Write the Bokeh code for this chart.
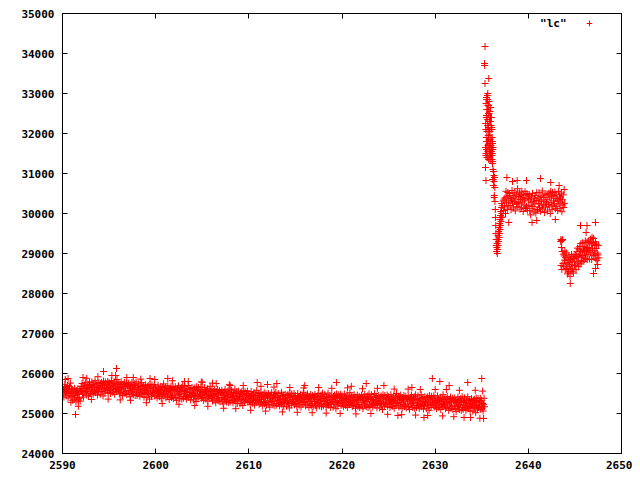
from bokeh.plotting import figure
from bokeh.models import LinearAxis, Range1d, Label, Legend, LegendItem, FixedTicker
from bokeh.embed import file_html
from bokeh.resources import INLINE

# ---------------- data ----------------
x_ticks = [2590, 2600, 2610, 2620, 2630, 2640, 2650]
y_ticks = [24000, 25000, 26000, 27000, 28000, 29000, 30000, 31000, 32000, 33000, 34000, 35000]
series_label = '"lc"'

# quiet part 2590.00 - 2635.30 (one row = one day)
t_quiet = [
    2590.00, 2590.05, 2590.10, 2590.15, 2590.20, 2590.25, 2590.30, 2590.35, 2590.40, 2590.45, 2590.50, 2590.55, 2590.60, 2590.65, 2590.70, 2590.75, 2590.80, 2590.85, 2590.90, 2590.95,
    2591.00, 2591.05, 2591.10, 2591.15, 2591.20, 2591.25, 2591.30, 2591.35, 2591.40, 2591.45, 2591.50, 2591.55, 2591.60, 2591.65, 2591.70, 2591.75, 2591.80, 2591.85, 2591.90, 2591.95,
    2592.00, 2592.05, 2592.10, 2592.15, 2592.20, 2592.25, 2592.30, 2592.35, 2592.40, 2592.45, 2592.50, 2592.55, 2592.60, 2592.65, 2592.70, 2592.75, 2592.80, 2592.85, 2592.90, 2592.95,
    2593.00, 2593.05, 2593.10, 2593.15, 2593.20, 2593.25, 2593.30, 2593.35, 2593.40, 2593.45, 2593.50, 2593.55, 2593.60, 2593.65, 2593.70, 2593.75, 2593.80, 2593.85, 2593.90, 2593.95,
    2594.00, 2594.05, 2594.10, 2594.15, 2594.20, 2594.25, 2594.30, 2594.35, 2594.40, 2594.45, 2594.50, 2594.55, 2594.60, 2594.65, 2594.70, 2594.75, 2594.80, 2594.85, 2594.90, 2594.95,
    2595.00, 2595.05, 2595.10, 2595.15, 2595.20, 2595.25, 2595.30, 2595.35, 2595.40, 2595.45, 2595.50, 2595.55, 2595.60, 2595.65, 2595.70, 2595.75, 2595.80, 2595.85, 2595.90, 2595.95,
    2596.00, 2596.05, 2596.10, 2596.15, 2596.20, 2596.25, 2596.30, 2596.35, 2596.40, 2596.45, 2596.50, 2596.55, 2596.60, 2596.65, 2596.70, 2596.75, 2596.80, 2596.85, 2596.90, 2596.95,
    2597.00, 2597.05, 2597.10, 2597.15, 2597.20, 2597.25, 2597.30, 2597.35, 2597.40, 2597.45, 2597.50, 2597.55, 2597.60, 2597.65, 2597.70, 2597.75, 2597.80, 2597.85, 2597.90, 2597.95,
    2598.00, 2598.05, 2598.10, 2598.15, 2598.20, 2598.25, 2598.30, 2598.35, 2598.40, 2598.45, 2598.50, 2598.55, 2598.60, 2598.65, 2598.70, 2598.75, 2598.80, 2598.85, 2598.90, 2598.95,
    2599.00, 2599.05, 2599.10, 2599.15, 2599.20, 2599.25, 2599.30, 2599.35, 2599.40, 2599.45, 2599.50, 2599.55, 2599.60, 2599.65, 2599.70, 2599.75, 2599.80, 2599.85, 2599.90, 2599.95,
    2600.00, 2600.05, 2600.10, 2600.15, 2600.20, 2600.25, 2600.30, 2600.35, 2600.40, 2600.45, 2600.50, 2600.55, 2600.60, 2600.65, 2600.70, 2600.75, 2600.80, 2600.85, 2600.90, 2600.95,
    2601.00, 2601.05, 2601.10, 2601.15, 2601.20, 2601.25, 2601.30, 2601.35, 2601.40, 2601.45, 2601.50, 2601.55, 2601.60, 2601.65, 2601.70, 2601.75, 2601.80, 2601.85, 2601.90, 2601.95,
    2602.00, 2602.05, 2602.10, 2602.15, 2602.20, 2602.25, 2602.30, 2602.35, 2602.40, 2602.45, 2602.50, 2602.55, 2602.60, 2602.65, 2602.70, 2602.75, 2602.80, 2602.85, 2602.90, 2602.95,
    2603.00, 2603.05, 2603.10, 2603.15, 2603.20, 2603.25, 2603.30, 2603.35, 2603.40, 2603.45, 2603.50, 2603.55, 2603.60, 2603.65, 2603.70, 2603.75, 2603.80, 2603.85, 2603.90, 2603.95,
    2604.00, 2604.05, 2604.10, 2604.15, 2604.20, 2604.25, 2604.30, 2604.35, 2604.40, 2604.45, 2604.50, 2604.55, 2604.60, 2604.65, 2604.70, 2604.75, 2604.80, 2604.85, 2604.90, 2604.95,
    2605.00, 2605.05, 2605.10, 2605.15, 2605.20, 2605.25, 2605.30, 2605.35, 2605.40, 2605.45, 2605.50, 2605.55, 2605.60, 2605.65, 2605.70, 2605.75, 2605.80, 2605.85, 2605.90, 2605.95,
    2606.00, 2606.05, 2606.10, 2606.15, 2606.20, 2606.25, 2606.30, 2606.35, 2606.40, 2606.45, 2606.50, 2606.55, 2606.60, 2606.65, 2606.70, 2606.75, 2606.80, 2606.85, 2606.90, 2606.95,
    2607.00, 2607.05, 2607.10, 2607.15, 2607.20, 2607.25, 2607.30, 2607.35, 2607.40, 2607.45, 2607.50, 2607.55, 2607.60, 2607.65, 2607.70, 2607.75, 2607.80, 2607.85, 2607.90, 2607.95,
    2608.00, 2608.05, 2608.10, 2608.15, 2608.20, 2608.25, 2608.30, 2608.35, 2608.40, 2608.45, 2608.50, 2608.55, 2608.60, 2608.65, 2608.70, 2608.75, 2608.80, 2608.85, 2608.90, 2608.95,
    2609.00, 2609.05, 2609.10, 2609.15, 2609.20, 2609.25, 2609.30, 2609.35, 2609.40, 2609.45, 2609.50, 2609.55, 2609.60, 2609.65, 2609.70, 2609.75, 2609.80, 2609.85, 2609.90, 2609.95,
    2610.00, 2610.05, 2610.10, 2610.15, 2610.20, 2610.25, 2610.30, 2610.35, 2610.40, 2610.45, 2610.50, 2610.55, 2610.60, 2610.65, 2610.70, 2610.75, 2610.80, 2610.85, 2610.90, 2610.95,
    2611.00, 2611.05, 2611.10, 2611.15, 2611.20, 2611.25, 2611.30, 2611.35, 2611.40, 2611.45, 2611.50, 2611.55, 2611.60, 2611.65, 2611.70, 2611.75, 2611.80, 2611.85, 2611.90, 2611.95,
    2612.00, 2612.05, 2612.10, 2612.15, 2612.20, 2612.25, 2612.30, 2612.35, 2612.40, 2612.45, 2612.50, 2612.55, 2612.60, 2612.65, 2612.70, 2612.75, 2612.80, 2612.85, 2612.90, 2612.95,
    2613.00, 2613.05, 2613.10, 2613.15, 2613.20, 2613.25, 2613.30, 2613.35, 2613.40, 2613.45, 2613.50, 2613.55, 2613.60, 2613.65, 2613.70, 2613.75, 2613.80, 2613.85, 2613.90, 2613.95,
    2614.00, 2614.05, 2614.10, 2614.15, 2614.20, 2614.25, 2614.30, 2614.35, 2614.40, 2614.45, 2614.50, 2614.55, 2614.60, 2614.65, 2614.70, 2614.75, 2614.80, 2614.85, 2614.90, 2614.95,
    2615.00, 2615.05, 2615.10, 2615.15, 2615.20, 2615.25, 2615.30, 2615.35, 2615.40, 2615.45, 2615.50, 2615.55, 2615.60, 2615.65, 2615.70, 2615.75, 2615.80, 2615.85, 2615.90, 2615.95,
    2616.00, 2616.05, 2616.10, 2616.15, 2616.20, 2616.25, 2616.30, 2616.35, 2616.40, 2616.45, 2616.50, 2616.55, 2616.60, 2616.65, 2616.70, 2616.75, 2616.80, 2616.85, 2616.90, 2616.95,
    2617.00, 2617.05, 2617.10, 2617.15, 2617.20, 2617.25, 2617.30, 2617.35, 2617.40, 2617.45, 2617.50, 2617.55, 2617.60, 2617.65, 2617.70, 2617.75, 2617.80, 2617.85, 2617.90, 2617.95,
    2618.00, 2618.05, 2618.10, 2618.15, 2618.20, 2618.25, 2618.30, 2618.35, 2618.40, 2618.45, 2618.50, 2618.55, 2618.60, 2618.65, 2618.70, 2618.75, 2618.80, 2618.85, 2618.90, 2618.95,
    2619.00, 2619.05, 2619.10, 2619.15, 2619.20, 2619.25, 2619.30, 2619.35, 2619.40, 2619.45, 2619.50, 2619.55, 2619.60, 2619.65, 2619.70, 2619.75, 2619.80, 2619.85, 2619.90, 2619.95,
    2620.00, 2620.05, 2620.10, 2620.15, 2620.20, 2620.25, 2620.30, 2620.35, 2620.40, 2620.45, 2620.50, 2620.55, 2620.60, 2620.65, 2620.70, 2620.75, 2620.80, 2620.85, 2620.90, 2620.95,
    2621.00, 2621.05, 2621.10, 2621.15, 2621.20, 2621.25, 2621.30, 2621.35, 2621.40, 2621.45, 2621.50, 2621.55, 2621.60, 2621.65, 2621.70, 2621.75, 2621.80, 2621.85, 2621.90, 2621.95,
    2622.00, 2622.05, 2622.10, 2622.15, 2622.20, 2622.25, 2622.30, 2622.35, 2622.40, 2622.45, 2622.50, 2622.55, 2622.60, 2622.65, 2622.70, 2622.75, 2622.80, 2622.85, 2622.90, 2622.95,
    2623.00, 2623.05, 2623.10, 2623.15, 2623.20, 2623.25, 2623.30, 2623.35, 2623.40, 2623.45, 2623.50, 2623.55, 2623.60, 2623.65, 2623.70, 2623.75, 2623.80, 2623.85, 2623.90, 2623.95,
    2624.00, 2624.05, 2624.10, 2624.15, 2624.20, 2624.25, 2624.30, 2624.35, 2624.40, 2624.45, 2624.50, 2624.55, 2624.60, 2624.65, 2624.70, 2624.75, 2624.80, 2624.85, 2624.90, 2624.95,
    2625.00, 2625.05, 2625.10, 2625.15, 2625.20, 2625.25, 2625.30, 2625.35, 2625.40, 2625.45, 2625.50, 2625.55, 2625.60, 2625.65, 2625.70, 2625.75, 2625.80, 2625.85, 2625.90, 2625.95,
    2626.00, 2626.05, 2626.10, 2626.15, 2626.20, 2626.25, 2626.30, 2626.35, 2626.40, 2626.45, 2626.50, 2626.55, 2626.60, 2626.65, 2626.70, 2626.75, 2626.80, 2626.85, 2626.90, 2626.95,
    2627.00, 2627.05, 2627.10, 2627.15, 2627.20, 2627.25, 2627.30, 2627.35, 2627.40, 2627.45, 2627.50, 2627.55, 2627.60, 2627.65, 2627.70, 2627.75, 2627.80, 2627.85, 2627.90, 2627.95,
    2628.00, 2628.05, 2628.10, 2628.15, 2628.20, 2628.25, 2628.30, 2628.35, 2628.40, 2628.45, 2628.50, 2628.55, 2628.60, 2628.65, 2628.70, 2628.75, 2628.80, 2628.85, 2628.90, 2628.95,
    2629.00, 2629.05, 2629.10, 2629.15, 2629.20, 2629.25, 2629.30, 2629.35, 2629.40, 2629.45, 2629.50, 2629.55, 2629.60, 2629.65, 2629.70, 2629.75, 2629.80, 2629.85, 2629.90, 2629.95,
    2630.00, 2630.05, 2630.10, 2630.15, 2630.20, 2630.25, 2630.30, 2630.35, 2630.40, 2630.45, 2630.50, 2630.55, 2630.60, 2630.65, 2630.70, 2630.75, 2630.80, 2630.85, 2630.90, 2630.95,
    2631.00, 2631.05, 2631.10, 2631.15, 2631.20, 2631.25, 2631.30, 2631.35, 2631.40, 2631.45, 2631.50, 2631.55, 2631.60, 2631.65, 2631.70, 2631.75, 2631.80, 2631.85, 2631.90, 2631.95,
    2632.00, 2632.05, 2632.10, 2632.15, 2632.20, 2632.25, 2632.30, 2632.35, 2632.40, 2632.45, 2632.50, 2632.55, 2632.60, 2632.65, 2632.70, 2632.75, 2632.80, 2632.85, 2632.90, 2632.95,
    2633.00, 2633.05, 2633.10, 2633.15, 2633.20, 2633.25, 2633.30, 2633.35, 2633.40, 2633.45, 2633.50, 2633.55, 2633.60, 2633.65, 2633.70, 2633.75, 2633.80, 2633.85, 2633.90, 2633.95,
    2634.00, 2634.05, 2634.10, 2634.15, 2634.20, 2634.25, 2634.30, 2634.35, 2634.40, 2634.45, 2634.50, 2634.55, 2634.60, 2634.65, 2634.70, 2634.75, 2634.80, 2634.85, 2634.90, 2634.95,
    2635.00, 2635.05, 2635.10, 2635.15, 2635.20, 2635.25, 2635.30,
]
f_quiet = [
    25680, 25480, 25600, 25410, 25570, 25730, 25520, 25650, 25440, 25620, 25550, 25700, 25390, 25590, 25500, 25670, 25460, 25760, 25530, 25630,
    25420, 25600, 25330, 25490, 25560, 25360, 25630, 25450, 25520, 25290, 25570, 25400, 25480, 25620, 25340, 25510, 25380, 25590, 25310, 25550,
    25680, 25570, 25750, 25480, 25660, 25410, 25620, 25710, 25520, 25770, 25550, 25630, 25460, 25690, 25590, 25730, 25440, 25650, 25780, 25500,
    25500, 25700, 25610, 25790, 25540, 25670, 25480, 25730, 25640, 25570, 25820, 25520, 25710, 25590, 25750, 25460, 25650, 25550, 25770, 25620,
    25670, 25480, 25750, 25590, 25780, 25550, 25700, 25440, 25810, 25620, 25720, 25510, 25790, 25570, 25650, 25740, 25600, 25800, 25520, 25690,
    25770, 25570, 25690, 25500, 25660, 25820, 25610, 25740, 25530, 25710, 25640, 25790, 25480, 25680, 25590, 25760, 25550, 25850, 25620, 25720,
    25580, 25760, 25490, 25650, 25720, 25520, 25790, 25610, 25680, 25450, 25730, 25560, 25640, 25780, 25500, 25670, 25540, 25750, 25470, 25710,
    25690, 25580, 25760, 25490, 25670, 25420, 25630, 25720, 25530, 25780, 25560, 25640, 25470, 25700, 25600, 25740, 25450, 25660, 25790, 25510,
    25450, 25650, 25560, 25740, 25490, 25620, 25430, 25680, 25590, 25520, 25770, 25470, 25660, 25540, 25700, 25410, 25600, 25500, 25720, 25570,
    25590, 25400, 25670, 25510, 25700, 25470, 25620, 25360, 25730, 25540, 25640, 25430, 25710, 25490, 25570, 25660, 25520, 25720, 25440, 25610,
    25660, 25460, 25580, 25390, 25550, 25710, 25500, 25630, 25420, 25600, 25530, 25680, 25370, 25570, 25480, 25650, 25440, 25740, 25510, 25610,
    25480, 25660, 25390, 25550, 25620, 25420, 25690, 25510, 25580, 25350, 25630, 25460, 25540, 25680, 25400, 25570, 25440, 25650, 25370, 25610,
    25600, 25490, 25670, 25400, 25580, 25330, 25540, 25630, 25440, 25690, 25470, 25550, 25380, 25610, 25510, 25650, 25360, 25570, 25700, 25420,
    25380, 25580, 25490, 25670, 25420, 25550, 25360, 25610, 25520, 25450, 25700, 25400, 25590, 25470, 25630, 25340, 25530, 25430, 25650, 25500,
    25530, 25340, 25610, 25450, 25640, 25410, 25560, 25300, 25670, 25480, 25580, 25370, 25650, 25430, 25510, 25600, 25460, 25660, 25380, 25550,
    25600, 25400, 25520, 25330, 25490, 25650, 25440, 25570, 25360, 25540, 25470, 25620, 25310, 25510, 25420, 25590, 25380, 25680, 25450, 25550,
    25400, 25580, 25310, 25470, 25540, 25340, 25610, 25430, 25500, 25270, 25550, 25380, 25460, 25600, 25320, 25490, 25360, 25570, 25290, 25530,
    25510, 25400, 25580, 25310, 25490, 25240, 25450, 25540, 25350, 25600, 25380, 25460, 25290, 25520, 25420, 25560, 25270, 25480, 25610, 25330,
    25290, 25490, 25400, 25580, 25330, 25460, 25270, 25520, 25430, 25360, 25610, 25310, 25500, 25380, 25540, 25250, 25440, 25340, 25560, 25410,
    25430, 25240, 25510, 25350, 25540, 25310, 25460, 25200, 25570, 25380, 25480, 25270, 25550, 25330, 25410, 25500, 25360, 25560, 25280, 25450,
    25500, 25300, 25420, 25230, 25390, 25550, 25340, 25470, 25260, 25440, 25370, 25520, 25210, 25410, 25320, 25490, 25280, 25580, 25350, 25450,
    25320, 25500, 25230, 25390, 25460, 25260, 25530, 25350, 25420, 25190, 25470, 25300, 25380, 25520, 25240, 25410, 25280, 25490, 25210, 25450,
    25430, 25320, 25500, 25230, 25410, 25160, 25370, 25460, 25270, 25520, 25300, 25380, 25210, 25440, 25340, 25480, 25190, 25400, 25530, 25250,
    25210, 25410, 25320, 25500, 25250, 25380, 25190, 25440, 25350, 25280, 25530, 25230, 25420, 25300, 25460, 25170, 25360, 25260, 25480, 25330,
    25370, 25180, 25450, 25290, 25480, 25250, 25400, 25140, 25510, 25320, 25420, 25210, 25490, 25270, 25350, 25440, 25300, 25500, 25220, 25390,
    25450, 25250, 25370, 25180, 25340, 25500, 25290, 25420, 25210, 25390, 25320, 25470, 25160, 25360, 25270, 25440, 25230, 25530, 25300, 25400,
    25280, 25460, 25190, 25350, 25420, 25220, 25490, 25310, 25380, 25150, 25430, 25260, 25340, 25480, 25200, 25370, 25240, 25450, 25170, 25410,
    25410, 25300, 25480, 25210, 25390, 25140, 25350, 25440, 25250, 25500, 25280, 25360, 25190, 25420, 25320, 25460, 25170, 25380, 25510, 25230,
    25190, 25390, 25300, 25480, 25230, 25360, 25170, 25420, 25330, 25260, 25510, 25210, 25400, 25280, 25440, 25150, 25340, 25240, 25460, 25310,
    25350, 25160, 25430, 25270, 25460, 25230, 25380, 25120, 25490, 25300, 25400, 25190, 25470, 25250, 25330, 25420, 25280, 25480, 25200, 25370,
    25440, 25240, 25360, 25170, 25330, 25490, 25280, 25410, 25200, 25380, 25310, 25460, 25150, 25350, 25260, 25430, 25220, 25520, 25290, 25390,
    25260, 25440, 25170, 25330, 25400, 25200, 25470, 25290, 25360, 25130, 25410, 25240, 25320, 25460, 25180, 25350, 25220, 25430, 25150, 25390,
    25390, 25280, 25460, 25190, 25370, 25120, 25330, 25420, 25230, 25480, 25260, 25340, 25170, 25400, 25300, 25440, 25150, 25360, 25490, 25210,
    25180, 25380, 25290, 25470, 25220, 25350, 25160, 25410, 25320, 25250, 25500, 25200, 25390, 25270, 25430, 25140, 25330, 25230, 25450, 25300,
    25330, 25140, 25410, 25250, 25440, 25210, 25360, 25100, 25470, 25280, 25380, 25170, 25450, 25230, 25310, 25400, 25260, 25460, 25180, 25350,
    25420, 25220, 25340, 25150, 25310, 25470, 25260, 25390, 25180, 25360, 25290, 25440, 25130, 25330, 25240, 25410, 25200, 25500, 25270, 25370,
    25250, 25430, 25160, 25320, 25390, 25190, 25460, 25280, 25350, 25120, 25400, 25230, 25310, 25450, 25170, 25340, 25210, 25420, 25140, 25380,
    25370, 25260, 25440, 25170, 25350, 25100, 25310, 25400, 25210, 25460, 25240, 25320, 25150, 25380, 25280, 25420, 25130, 25340, 25470, 25190,
    25150, 25350, 25260, 25440, 25190, 25320, 25130, 25380, 25290, 25220, 25470, 25170, 25360, 25240, 25400, 25110, 25300, 25200, 25420, 25270,
    25310, 25120, 25390, 25230, 25420, 25190, 25340, 25080, 25450, 25260, 25360, 25150, 25430, 25210, 25290, 25380, 25240, 25440, 25160, 25330,
    25390, 25190, 25310, 25120, 25280, 25440, 25230, 25360, 25150, 25330, 25260, 25410, 25100, 25300, 25210, 25380, 25170, 25470, 25240, 25340,
    25210, 25390, 25120, 25280, 25350, 25150, 25420, 25240, 25310, 25080, 25360, 25190, 25270, 25410, 25130, 25300, 25170, 25380, 25100, 25340,
    25320, 25210, 25390, 25120, 25300, 25050, 25260, 25350, 25160, 25410, 25190, 25270, 25100, 25330, 25230, 25370, 25080, 25290, 25420, 25140,
    25100, 25300, 25210, 25390, 25140, 25270, 25080, 25330, 25240, 25170, 25420, 25120, 25310, 25190, 25350, 25060, 25250, 25150, 25370, 25220,
    25250, 25060, 25330, 25170, 25360, 25130, 25280, 25020, 25390, 25200, 25300, 25090, 25370, 25150, 25230, 25320, 25180, 25380, 25100, 25270,
    25330, 25130, 25250, 25060, 25220, 25380, 25170,
]
# wider-scattered points of the quiet part (ragged band edges)
t_quiet_tail = [2590.3, 2590.9, 2591.7, 2592.6, 2593.1, 2593.8, 2594.9, 2595.3, 2596.2, 2596.9, 2597.3, 2598.4, 2599.0, 2599.9, 2600.7,
                2601.8, 2602.5, 2603.1, 2604.2, 2604.9, 2605.6, 2606.1, 2607.3, 2607.9, 2608.6, 2609.4, 2610.2, 2611.3, 2611.8, 2612.7,
                2613.6, 2614.4, 2615.2, 2615.9, 2616.8, 2617.5, 2618.3, 2618.9, 2619.8, 2620.6, 2621.5, 2622.2, 2623.1, 2623.8, 2624.9,
                2625.6, 2626.4, 2627.1, 2627.9, 2628.4, 2629.2, 2630.0, 2630.8, 2631.2, 2632.0, 2632.6, 2633.8, 2634.3, 2634.8, 2635.1]
f_quiet_tail = [25850, 25280, 25180, 25880, 25350, 25920, 25360, 25950, 25340, 25900, 25330, 25860, 25270, 25850, 25250,
                25820, 25230, 25800, 25200, 25790, 25180, 25760, 25130, 25720, 25120, 25700, 25080, 25680, 25060, 25660,
                25040, 25650, 25030, 25640, 25020, 25650, 25010, 25630, 25000, 25640, 24990, 25620, 25000, 25630, 24980,
                25610, 24970, 25610, 24960, 25600, 24950, 25600, 24940, 25600, 24920, 25580, 24900, 25580, 24880, 25560]
# isolated points of the quiet part
t_quiet_out = [2590.6, 2591.4, 2592.2, 2594.4, 2595.8, 2595.7, 2597.6, 2599.4, 2601.3, 2603.5, 2605.0, 2606.5, 2608.0, 2610.9, 2612.0, 2613.0,
               2616.0, 2619.4, 2621.0, 2622.6, 2624.5, 2626.0, 2627.5, 2628.8, 2629.7, 2630.5, 2631.5, 2633.1, 2633.5, 2635.0, 2635.2]
f_quiet_out = [25875, 24975, 25900, 26050, 26125, 25950, 25900, 25875, 25875, 25800, 25780, 25750, 25700, 25775, 25725, 25750,
               25700, 25775, 25680, 25750, 25700, 24950, 25650, 24900, 25875, 25800, 25700, 24900, 25775, 25875, 24875]

# jump and peak 2635.3 - 2636.2
t_peak = [2635.35, 2635.30, 2635.32, 2635.35, 2635.75, 2635.45, 2635.40, 2635.50, 2635.65, 2635.60,
          2635.40, 2635.43, 2635.46, 2635.49, 2635.52, 2635.55, 2635.58, 2635.61, 2635.64, 2635.67,
          2635.70, 2635.73, 2635.76, 2635.79, 2635.82, 2635.85, 2635.88, 2635.91, 2635.94, 2635.97,
          2636.00, 2636.03, 2636.06, 2636.09, 2636.12, 2636.15, 2636.18,
          2635.42, 2635.44, 2635.46, 2635.48, 2635.50, 2635.52, 2635.54, 2635.56, 2635.58, 2635.60,
          2635.62, 2635.64, 2635.66, 2635.68, 2635.70, 2635.72, 2635.74, 2635.76, 2635.78, 2635.80,
          2635.82, 2635.84, 2635.86, 2635.88, 2635.90, 2635.92, 2635.94, 2635.96, 2635.98, 2636.00,
          2636.02, 2636.04, 2636.06, 2636.08, 2636.10, 2636.12, 2636.14, 2636.16, 2636.18, 2636.20]
f_peak = [34175, 33750, 33700, 33250, 33375, 30825, 31150, 32900, 33000, 32950,
          31650, 32100, 31500, 32400, 31800, 32600, 31400, 32850, 32200, 31700,
          32700, 31900, 32500, 31600, 32300, 31500, 32050, 31750, 32400, 31350,
          31900, 31550, 32150, 31450, 31800, 31250, 31600,
          32250, 31450, 32750, 31900, 32450, 31600, 32850, 32050, 31400, 32600,
          31800, 32350, 31550, 32700, 31950, 32150, 31350, 32500, 31750, 32800,
          31650, 32050, 31400, 32550, 31850, 32300, 31500, 32650, 31700, 32200,
          31450, 32400, 31600, 32100, 31350, 31900, 31500, 31750, 31300, 31650]

# fall and recovery 2636.2 - 2637.2
t_dip = [2636.20, 2636.25, 2636.30, 2636.35, 2636.40, 2636.45, 2636.50, 2636.55, 2636.60, 2636.65,
         2636.70, 2636.75, 2636.80, 2636.85, 2636.90, 2636.95, 2637.00, 2637.05, 2637.10, 2637.15,
         2636.32, 2636.18,
         2636.22, 2636.27, 2636.33, 2636.37, 2636.42, 2636.47, 2636.52, 2636.57, 2636.62, 2636.67,
         2636.72, 2636.77, 2636.82, 2636.87, 2636.92, 2636.97, 2637.02, 2637.07, 2637.12, 2637.17]
f_dip = [31100, 30700, 30950, 30450, 30650, 30100, 29700, 29350, 29050, 29250,
         29100, 29450, 29300, 29650, 29500, 29850, 29700, 30050, 29900, 30250,
         30800, 30850,
         30850, 31050, 30400, 30900, 30300, 29900, 29500, 29200, 29150, 29000,
         29350, 29200, 29550, 29400, 29750, 29600, 29950, 29800, 30150, 30000]

# plateau 2637.20 - 2643.90
t_plateau = [
    2637.20, 2637.25, 2637.30, 2637.35, 2637.40, 2637.45, 2637.50, 2637.55, 2637.60, 2637.65, 2637.70, 2637.75, 2637.80, 2637.85, 2637.90, 2637.95,
    2638.00, 2638.05, 2638.10, 2638.15, 2638.20, 2638.25, 2638.30, 2638.35, 2638.40, 2638.45, 2638.50, 2638.55, 2638.60, 2638.65, 2638.70, 2638.75, 2638.80, 2638.85, 2638.90, 2638.95,
    2639.00, 2639.05, 2639.10, 2639.15, 2639.20, 2639.25, 2639.30, 2639.35, 2639.40, 2639.45, 2639.50, 2639.55, 2639.60, 2639.65, 2639.70, 2639.75, 2639.80, 2639.85, 2639.90, 2639.95,
    2640.00, 2640.05, 2640.10, 2640.15, 2640.20, 2640.25, 2640.30, 2640.35, 2640.40, 2640.45, 2640.50, 2640.55, 2640.60, 2640.65, 2640.70, 2640.75, 2640.80, 2640.85, 2640.90, 2640.95,
    2641.00, 2641.05, 2641.10, 2641.15, 2641.20, 2641.25, 2641.30, 2641.35, 2641.40, 2641.45, 2641.50, 2641.55, 2641.60, 2641.65, 2641.70, 2641.75, 2641.80, 2641.85, 2641.90, 2641.95,
    2642.00, 2642.05, 2642.10, 2642.15, 2642.20, 2642.25, 2642.30, 2642.35, 2642.40, 2642.45, 2642.50, 2642.55, 2642.60, 2642.65, 2642.70, 2642.75, 2642.80, 2642.85, 2642.90, 2642.95,
    2643.00, 2643.05, 2643.10, 2643.15, 2643.20, 2643.25, 2643.30, 2643.35, 2643.40, 2643.45, 2643.50, 2643.55, 2643.60, 2643.65, 2643.70, 2643.75, 2643.80, 2643.85, 2643.90,
    2637.7, 2637.9, 2638.8, 2639.8, 2640.4, 2640.9, 2641.3, 2642.4, 2643.3, 2638.3, 2642.9,
]
f_plateau = [
    30195, 29910, 30315, 30075, 30360, 30165, 30390, 30000, 30555, 30270, 30420, 30105, 30525, 30195, 30315, 30450,
    30500, 30200, 30380, 30095, 30335, 30575, 30260, 30455, 30140, 30410, 30305, 30530, 30065, 30365, 30230, 30485, 30170, 30620, 30275, 30425,
    30245, 30515, 30110, 30350, 30455, 30155, 30560, 30290, 30395, 30050, 30470, 30215, 30335, 30545, 30125, 30380, 30185, 30500, 30080, 30440,
    30370, 30205, 30475, 30070, 30340, 29965, 30280, 30415, 30130, 30505, 30175, 30295, 30040, 30385, 30235, 30445, 30010, 30325, 30520, 30100,
    30085, 30385, 30250, 30520, 30145, 30340, 30055, 30430, 30295, 30190, 30565, 30115, 30400, 30220, 30460, 30025, 30310, 30160, 30490, 30265,
    30345, 30060, 30465, 30225, 30510, 30165, 30390, 30000, 30555, 30270, 30420, 30105, 30525, 30195, 30315, 30450, 30240, 30540, 30120, 30375,
    30480, 30180, 30360, 30075, 30315, 30555, 30240, 30435, 30120, 30390, 30285, 30510, 30045, 30345, 30210, 30465, 30150, 30600, 30255,
    30900, 29775, 30825, 30825, 29775, 29825, 30875, 30775, 30700, 30800, 29850,
]

# low level 2643.48 - 2647.56
t_low = [
    2643.48, 2643.52, 2643.56, 2643.60, 2643.64, 2643.68, 2643.72, 2643.76, 2643.80, 2643.84, 2643.88, 2643.92, 2643.96, 2644.00, 2644.04, 2644.08, 2644.12, 2644.16, 2644.20, 2644.24,
    2644.28, 2644.32, 2644.36, 2644.40, 2644.44, 2644.48, 2644.52, 2644.56, 2644.60, 2644.64, 2644.68, 2644.72, 2644.76, 2644.80, 2644.84, 2644.88, 2644.92, 2644.96, 2645.00, 2645.04,
    2645.08, 2645.12, 2645.16, 2645.20, 2645.24, 2645.28, 2645.32, 2645.36, 2645.40, 2645.44, 2645.48, 2645.52, 2645.56, 2645.60, 2645.64, 2645.68, 2645.72, 2645.76, 2645.80, 2645.84,
    2645.88, 2645.92, 2645.96, 2646.00, 2646.04, 2646.08, 2646.12, 2646.16, 2646.20, 2646.24, 2646.28, 2646.32, 2646.36, 2646.40, 2646.44, 2646.48, 2646.52, 2646.56, 2646.60, 2646.64,
    2646.68, 2646.72, 2646.76, 2646.80, 2646.84, 2646.88, 2646.92, 2646.96, 2647.00, 2647.04, 2647.08, 2647.12, 2647.16, 2647.20, 2647.24, 2647.28, 2647.32, 2647.36, 2647.40, 2647.44,
    2647.48, 2647.52, 2647.56,
    2643.50, 2644.50, 2645.60, 2646.30, 2647.20, 2646.20, 2647.00, 2647.22, 2643.60,
]
f_low = [
    29300, 28700, 29150, 28600, 29050, 29350, 28750, 28985, 28670, 28940, 28835, 29060, 28595, 28895, 28760, 29015, 28625, 28895, 28490, 28730,
    28835, 28535, 28940, 28670, 28775, 28430, 28850, 28595, 28715, 28975, 28555, 28810, 28615, 28930, 28510, 28870, 28870, 28705, 28975, 28700,
    28970, 28595, 28910, 29045, 28760, 29135, 28805, 28925, 28670, 29115, 28965, 29175, 28740, 29055, 29250, 28830, 28785, 29085, 28950, 29270,
    28895, 29090, 28805, 29180, 29045, 28940, 29315, 28865, 29150, 29040, 29280, 28845, 29130, 28980, 29310, 29085, 29145, 28860, 29265, 29075,
    29360, 29015, 29240, 28850, 29405, 29120, 29270, 28955, 29375, 28945, 29065, 29200, 28990, 29290, 28870, 29125, 29230, 28830, 29010, 28725,
    28965, 29205, 28890,
    29350, 28250, 29700, 29700, 29775, 29525, 28500, 28625, 29325,
]

t_all = t_quiet + t_quiet_tail + t_quiet_out + t_peak + t_dip + t_plateau + t_low
f_all = f_quiet + f_quiet_tail + f_quiet_out + f_peak + f_dip + f_plateau + f_low

# ---------------- figure ----------------
FONT = "DejaVu Sans Mono"

p = figure(width=632, height=472,
           x_range=Range1d(x_ticks[0], x_ticks[-1]), y_range=Range1d(y_ticks[0], y_ticks[-1]),
           output_backend="svg", toolbar_location=None,
           min_border_left=62, min_border_right=11, min_border_top=13, min_border_bottom=19,
           x_axis_location=None, y_axis_location=None)
p.xgrid.visible = False
p.ygrid.visible = False
p.outline_line_color = "black"
p.outline_line_width = 1
p.outline_line_alpha = 1.0
p.background_fill_color = "white"
p.border_fill_color = "white"

r = p.scatter(t_all, f_all, marker="cross", size=7, line_color="#ff0000", line_width=1)


def make_axis(ticks, show_labels):
    ax = LinearAxis(ticker=FixedTicker(ticks=ticks))
    ax.major_tick_in = 5
    ax.major_tick_out = 0
    ax.minor_tick_line_color = None
    ax.axis_line_color = "black"
    ax.major_tick_line_color = "black"
    ax.major_label_text_font = FONT
    ax.major_label_text_font_style = "bold"
    ax.major_label_text_font_size = "11px"
    ax.major_label_text_color = "black"
    if not show_labels:
        ax.major_label_overrides = {t: "" for t in ticks}
        ax.major_label_standoff = 0
    return ax


bottom = make_axis(x_ticks, True)
bottom.major_label_standoff = 7
p.add_layout(bottom, "below")
left = make_axis(y_ticks, True)
left.major_label_standoff = 8
p.add_layout(left, "left")
p.add_layout(make_axis(x_ticks, False), "above")
p.add_layout(make_axis(y_ticks, False), "right")

legend = Legend(items=[LegendItem(label=" ", renderers=[r])], location=(520, 423),
                padding=0, margin=0, spacing=0, glyph_width=14, glyph_height=14,
                label_standoff=0, label_width=0, label_height=0,
                border_line_color=None, background_fill_alpha=0,
                label_text_font_size="1px")
p.add_layout(legend)

p.add_layout(Label(x=504, y=430, x_units="screen", y_units="screen", text=series_label,
                   text_font=FONT, text_font_style="bold", text_font_size="11px",
                   text_align="right", text_baseline="middle", text_color="black"))

open("out.html", "w").write(file_html(p, INLINE))
